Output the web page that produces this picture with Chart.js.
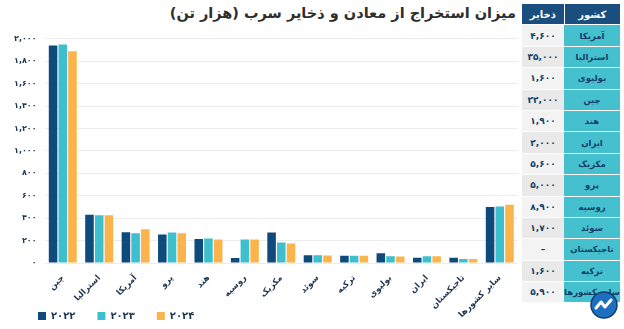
<!DOCTYPE html>
<html lang="fa">
<head>
<meta charset="utf-8">
<script src="https://cdn.jsdelivr.net/npm/chart.js@4"></script>
<style>
  html, body { margin: 0; padding: 0; background: #fff; }
  body { width: 624px; height: 329px; position: relative; overflow: hidden; font-family: "DejaVu Sans", sans-serif; }
  #title { position: absolute; right: 108px; top: 5px; direction: rtl; font-weight: bold; font-size: 14.5px; color: #2e2e2e; white-space: nowrap; }
  /* canvas runs past the page bottom; the legend is lifted back into view */
  #chart-box { position: absolute; left: 0; top: 26px; width: 518px; height: 319px; }
  #reserves { position: absolute; left: 522px; top: 4px; width: 98px; border-collapse: collapse; direction: rtl; font-size: 9px; font-weight: bold; }
  #reserves td, #reserves th { height: 20.4px; padding: 0; text-align: center; border-bottom: 1px solid #fff; white-space: nowrap; }
  #reserves th { background: #1a4e7e; color: #fff; font-size: 10px; }
  #reserves th:first-child { border-left: 1px solid #fff; }
  #reserves td.c { background: #45c0cf; color: #143e66; width: 56px; font-size: 8.5px; letter-spacing: -0.4px; }
  #reserves td.v { background: #e9e9e9; color: #143e66; }
  #reserves tr:nth-child(odd) td.v { background: #f3f3f3; }
  #logo { position: absolute; left: 590px; top: 291px; }
</style>
</head>
<body>
<div id="title">میزان استخراج از معادن و ذخایر سرب (هزار تن)</div>
<div id="chart-box"><canvas id="c"></canvas></div>
<table id="reserves"><thead><tr><th>کشور</th><th>ذخایر</th></tr></thead><tbody></tbody></table>
<svg id="logo" width="28" height="28" viewBox="0 0 28 28">
  <circle cx="14" cy="14" r="13" fill="#1f6fc0" stroke="#0d3f73" stroke-width="1.5"/>
  <path d="M6 17 L11 11 L15 16 L21 9" fill="none" stroke="#fff" stroke-width="3" stroke-linecap="round" stroke-linejoin="round"/>
</svg>
<script>
// lead mine production (thousand tonnes) per country, by year
const countries = ['چین', 'استرالیا', 'آمریکا', 'پرو', 'هند', 'روسیه', 'مکزیک', 'سوئد', 'ترکیه', 'بولیوی', 'ایران', 'تاجیکستان', 'سایر کشورها']
const years = ['2022', '2023', '2024']
const prod2022 = [1940, 430, 275, 255, 215, 45, 272, 70, 65, 88, 47, 47, 500]
const prod2023 = [1950, 425, 265, 272, 218, 210, 183, 70, 65, 60, 60, 35, 505]
const prod2024 = [1890, 425, 300, 265, 210, 210, 175, 68, 65, 58, 60, 35, 520]
const yearColors = ['#0f4a7c', '#3ebfcd', '#fbb44c']

// reserves table (thousand tonnes); null shows as a dash
const tableCountries = ['آمریکا', 'استرالیا', 'بولیوی', 'چین', 'هند', 'ایران', 'مکزیک', 'پرو', 'روسیه', 'سوئد', 'تاجیکستان', 'ترکیه', 'سایر کشورها']
const tableReserves = [4600, 35000, 1600, 22000, 1900, 2000, 5600, 5000, 8900, 1700, null, 1600, 5900]

const faDigits = '۰۱۲۳۴۵۶۷۸۹'
const fa = v => String(v).replace(/\d/g, d => faDigits[d])
const faNum = n => fa(Number(n).toLocaleString('en-US'))

const tbody = document.querySelector('#reserves tbody')
tableCountries.forEach((name, i) => {
  const tr = document.createElement('tr')
  const v = tableReserves[i]
  tr.innerHTML = `<td class="c">${name}</td><td class="v">${v == null ? '–' : faNum(v)}</td>`
  tbody.appendChild(tr)
})

const font = { family: '"DejaVu Sans", sans-serif', weight: 'bold' }
const series = [prod2022, prod2023, prod2024]

// legend sits under the plot (not under the y labels) and overlaps the
// bottom of the tall rotated country labels, as in the original
const legendShift = {
  id: 'legendShift',
  afterLayout: chart => {
    const lg = chart.legend
    lg.left += 30
    lg.top -= 14
    lg.bottom -= 14
  },
}

new Chart(document.getElementById('c'), {
  type: 'bar',
  data: {
    labels: countries,
    datasets: series.map((data, i) => ({
      label: fa(years[i]),
      data,
      backgroundColor: yearColors[i],
      categoryPercentage: 0.8,
      barPercentage: 0.88,
    })),
  },
  options: {
    responsive: true,
    maintainAspectRatio: false,
    animation: false,
    layout: { padding: { left: 6, right: 0, top: 6, bottom: 0 } },
    scales: {
      x: {
        grid: { display: false },
        border: { display: false },
        ticks: { color: '#1d3550', font: { ...font, size: 8.5 }, minRotation: 45, maxRotation: 45, padding: 2 },
        afterFit: scale => { scale.height = 60 },
      },
      y: {
        min: 0, max: 2000,
        border: { display: false },
        grid: { color: '#ececec', drawTicks: false },
        ticks: { stepSize: 200, color: '#1d3550', font: { ...font, size: 8 }, padding: 8, callback: v => faNum(v) },
      },
    },
    plugins: {
      legend: {
        position: 'bottom',
        align: 'start',
        labels: {
          color: '#1d3550', font: { ...font, size: 10 }, boxWidth: 8, boxHeight: 8, padding: 2,
          // legend padding is also vertical, so widen items with trailing spaces instead
          generateLabels: chart => Chart.defaults.plugins.legend.labels.generateLabels(chart)
            .map(item => ({ ...item, text: item.text + '\u2003\u2003' })),
        },
      },
      tooltip: { enabled: false },
    },
  },
  plugins: [legendShift],
})
</script>
</body>
</html>
